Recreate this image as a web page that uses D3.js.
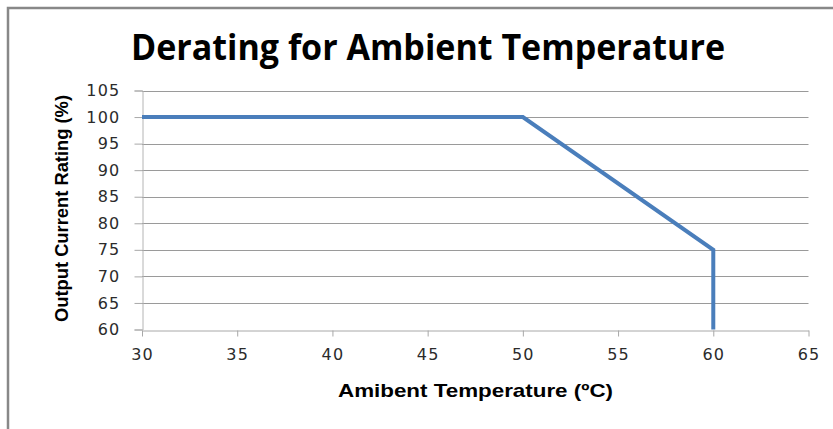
<!DOCTYPE html>
<html lang="en">
<head>
<meta charset="UTF-8">
<title>Derating for Ambient Temperature</title>
<script src="https://d3js.org/d3.v7.min.js"></script>
<style>
    body { margin: 0; background: #fff; }
    .grid line { stroke: #9a9a9a; }
    .tick text { font-family: "DejaVu Sans", Verdana, sans-serif; font-size: 16px; fill: #2b2b2b; letter-spacing: 1.2px; }
</style>
</head>
<body>
<script>

// chart data
var temps = [30, 50, 60, 60];
var rating = [100, 100, 75, 60];
var xTicks = [30, 35, 40, 45, 50, 55, 60, 65];
var yTicks = [60, 65, 70, 75, 80, 85, 90, 95, 100, 105];

var width = 833, height = 429;
var margin = {left: 142, right: width - 808.5, top: 90.5, bottom: height - 329.5};

var svg = d3.select('body').append('svg')
    .attr('width', width)
    .attr('height', height);

// outer chart border (runs off the right / bottom edge)
svg.append('rect')
    .attr('x', 8).attr('y', 8)
    .attr('width', 1000).attr('height', 1000)
    .attr('fill', 'none')
    .attr('stroke', '#888')
    .attr('stroke-width', 2.5);

var x = d3.scaleLinear().domain([30, 65]).range([margin.left, width - margin.right]);
var y = d3.scaleLinear().domain([60, 105]).range([height - margin.bottom, margin.top]);

// horizontal gridlines
svg.append('g')
    .attr('class', 'grid')
    .selectAll('line')
    .data(yTicks.slice(1))
    .enter()
    .append('line')
    .attr('x1', x(30)).attr('x2', x(65))
    .attr('y1', function(d) { return Math.round(y(d)) + 0.5; })
    .attr('y2', function(d) { return Math.round(y(d)) + 0.5; });

// y axis
var yAxis = svg.append('g')
    .attr('transform', 'translate(' + (Math.round(x(30)) + 0.5) + ',0)')
    .call(d3.axisLeft(y).tickValues(yTicks).tickSize(8).tickPadding(14));
yAxis.select('.domain').attr('stroke', '#b4b4b4');
yAxis.selectAll('.tick line').attr('stroke', '#a8a8a8');

// x axis
var xAxis = svg.append('g')
    .attr('transform', 'translate(0,' + (Math.round(y(60)) + 0.5) + ')')
    .call(d3.axisBottom(x).tickValues(xTicks).tickSize(6).tickPadding(12).tickSizeOuter(0));
xAxis.select('.domain').attr('stroke', '#a8a8a8');
xAxis.selectAll('.tick line').attr('stroke', '#a8a8a8');

// derating curve
var pts = temps.map(function(t, i) { return [t, rating[i]]; });
svg.append('path')
    .datum(pts)
    .attr('fill', 'none')
    .attr('stroke', '#4a7ebb')
    .attr('stroke-width', 4)
    .attr('d', d3.line()
        .x(function(d) { return x(d[0]); })
        .y(function(d) { return y(d[1]); }));

// title
svg.append('text')
    .attr('x', 131).attr('y', 60)
    .attr('textLength', 594)
    .attr('lengthAdjust', 'spacingAndGlyphs')
    .style('font-family', '"Open Sans", sans-serif')
    .style('font-weight', 'bold')
    .style('font-size', '35px')
    .style('fill', '#000')
    .text('Derating for Ambient Temperature');

// axis titles
svg.append('text')
    .attr('x', 338).attr('y', 397)
    .attr('textLength', 275)
    .attr('lengthAdjust', 'spacingAndGlyphs')
    .style('font-family', '"Liberation Sans", Arial, sans-serif')
    .style('font-weight', 'bold')
    .style('font-size', '19px')
    .text('Amibent Temperature (\u00BAC)');

svg.append('text')
    .attr('transform', 'translate(68,322) rotate(-90)')
    .attr('textLength', 227)
    .attr('lengthAdjust', 'spacingAndGlyphs')
    .style('font-family', '"Liberation Sans", Arial, sans-serif')
    .style('font-weight', 'bold')
    .style('font-size', '19px')
    .text('Output Current Rating (%)');

</script>
</body>
</html>
